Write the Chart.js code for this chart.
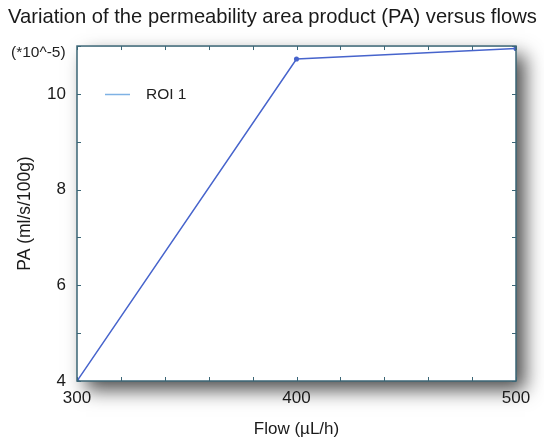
<!DOCTYPE html>
<html>
<head>
<meta charset="utf-8">
<script src="https://cdn.jsdelivr.net/npm/chart.js@4"></script>
<style>
    html, body { margin: 0; padding: 0; background: #fff; }
    #wrap { width: 544px; height: 441px; position: relative; }
</style>
</head>
<body>
<div id="wrap"><canvas id="paChart"></canvas></div>
<script>
// PA vs flow, one ROI
const flowValues = [300, 400, 500];
const paValues = [4.0, 10.73, 10.95];
const xTickLabels = [300, 400, 500];
const yTickLabels = [4, 6, 8, 10];

const frameColor = '#3b6676';
const fontFamily = '"Liberation Sans", Arial, sans-serif';

const paChartElm = document.getElementById('paChart');

const paChartData = {
    datasets: [{
        label: 'ROI 1',
        data: flowValues.map((f, i) => ({ x: f, y: paValues[i] })),
        borderColor: '#4764cc',
        backgroundColor: '#4764cc',
        borderWidth: 1.5,
        pointRadius: 1.8,
        pointHoverRadius: 1.8,
        tension: 0,
        fill: false,
    }]
};

// white plot box with a soft drop shadow behind it
const plotShadow = {
    id: 'plotShadow',
    beforeDraw: (chart) => {
        const { ctx, chartArea: a } = chart;
        ctx.save();
        ctx.shadowColor = 'rgba(0, 0, 0, 0.7)';
        ctx.shadowBlur = 18;
        ctx.shadowOffsetX = 9;
        ctx.shadowOffsetY = 9;
        ctx.fillStyle = '#fff';
        ctx.fillRect(a.left, a.top, a.right - a.left, a.bottom - a.top);
        ctx.restore();
    }
};

// frame, inward ticks on all four sides, unit note and legend
const plotFrame = {
    id: 'plotFrame',
    afterDraw: (chart) => {
        const { ctx, chartArea: a } = chart;
        const xs = chart.scales.x;
        const ys = chart.scales.y;
        const len = 4;

        ctx.save();
        ctx.strokeStyle = frameColor;
        ctx.lineWidth = 1.5;
        ctx.strokeRect(a.left, a.top, a.right - a.left, a.bottom - a.top);

        ctx.lineWidth = 1;
        ctx.beginPath();
        for (let v = xs.min; v <= xs.max; v += 20) {
            const px = Math.round(xs.getPixelForValue(v)) + 0.5;
            ctx.moveTo(px, a.bottom);
            ctx.lineTo(px, a.bottom - len);
            ctx.moveTo(px, a.top);
            ctx.lineTo(px, a.top + len);
        }
        for (let v = ys.min; v <= ys.max; v += 1) {
            const py = Math.round(ys.getPixelForValue(v)) + 0.5;
            ctx.moveTo(a.left, py);
            ctx.lineTo(a.left + len, py);
            ctx.moveTo(a.right, py);
            ctx.lineTo(a.right - len, py);
        }
        ctx.stroke();

        ctx.fillStyle = '#222';
        ctx.font = '15.5px ' + fontFamily;
        ctx.textAlign = 'left';
        ctx.textBaseline = 'middle';
        ctx.fillText('(*10^-5)', 11, 53);

        // legend entry
        const ds = chart.data.datasets[0];
        ctx.strokeStyle = '#7fb2e4';
        ctx.lineWidth = 1.5;
        ctx.beginPath();
        ctx.moveTo(105, 94.5);
        ctx.lineTo(130, 94.5);
        ctx.stroke();
        ctx.font = '15.5px ' + fontFamily;
        ctx.fillText(ds.label, 146, 95);
        ctx.restore();
    }
};

const paChartConfig = {
    type: 'line',
    data: paChartData,
    options: {
        responsive: true,
        maintainAspectRatio: false,
        animation: false,
        layout: {
            padding: { top: 0, right: 6, bottom: 0, left: 8 }
        },
        plugins: {
            legend: { display: false },
            tooltip: { enabled: false },
            title: {
                display: true,
                align: 'start',
                text: 'Variation of the permeability area product (PA) versus flows',
                color: '#1a1a1a',
                font: { family: fontFamily, size: 20.2, weight: 'normal' },
                padding: { top: 5, bottom: 16.8 }
            }
        },
        scales: {
            x: {
                type: 'linear',
                min: 300,
                max: 500,
                grid: { display: false, drawTicks: false },
                border: { display: false },
                afterBuildTicks: (scale) => {
                    scale.ticks = xTickLabels.map(v => ({ value: v }));
                },
                ticks: {
                    color: '#1a1a1a',
                    padding: 7,
                    maxRotation: 0,
                    font: { family: fontFamily, size: 17 },
                },
                title: {
                    display: true,
                    text: 'Flow (µL/h)',
                    color: '#1a1a1a',
                    font: { family: fontFamily, size: 17 },
                    padding: { top: 0, bottom: 1 }
                },
                afterFit: (scale) => { scale.height = 60; }
            },
            y: {
                type: 'linear',
                min: 4,
                max: 11,
                grid: { display: false, drawTicks: false },
                border: { display: false },
                afterBuildTicks: (scale) => {
                    scale.ticks = yTickLabels.map(v => ({ value: v }));
                },
                ticks: {
                    color: '#1a1a1a',
                    padding: 11,
                    font: { family: fontFamily, size: 17 },
                },
                title: {
                    display: true,
                    text: 'PA (ml/s/100g)',
                    color: '#1a1a1a',
                    font: { family: fontFamily, size: 17.5 },
                    padding: { top: 6.5, bottom: 0 }
                },
                afterFit: (scale) => { scale.width = 69; }
            },
            // empty right-hand strip that holds room for the shadow
            yRight: {
                type: 'linear',
                position: 'right',
                min: 4,
                max: 11,
                grid: { display: false, drawTicks: false },
                border: { display: false },
                ticks: { display: false },
                afterFit: (scale) => { scale.width = 22; }
            }
        }
    },
    plugins: [plotShadow, plotFrame]
};

const paChart = new Chart(paChartElm, paChartConfig);
</script>
</body>
</html>
